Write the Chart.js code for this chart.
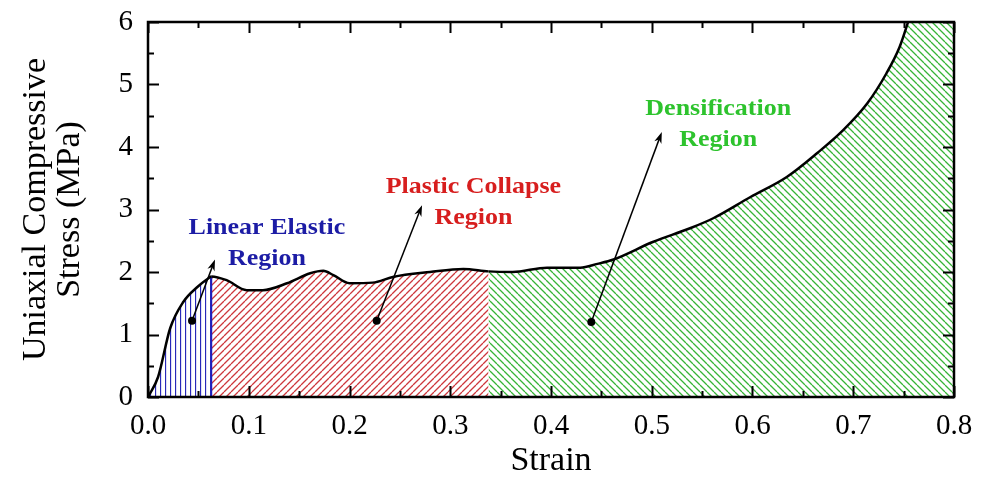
<!DOCTYPE html>
<html><head><meta charset="utf-8">
<script src="https://cdn.jsdelivr.net/npm/chart.js@4.4.0/dist/chart.umd.min.js"></script>
<style>html,body{margin:0;padding:0;background:#fff}</style>
</head><body>
<canvas id="c" width="988" height="478"></canvas>
<script>
// ---- data ----
const strain = [0, 0.01, 0.022, 0.035, 0.049, 0.06, 0.063, 0.078, 0.098, 0.114, 0.138, 0.161, 0.174, 0.184, 0.2, 0.223, 0.243, 0.28, 0.313, 0.338, 0.362, 0.396, 0.429, 0.446, 0.462, 0.501, 0.538, 0.561, 0.598, 0.634, 0.664, 0.69, 0.714, 0.733, 0.746, 0.754, 0.8];
const stress = [0, 0.32, 1.1, 1.52, 1.76, 1.9, 1.93, 1.87, 1.71, 1.71, 1.82, 1.98, 2.02, 1.95, 1.82, 1.83, 1.92, 2.0, 2.05, 2.01, 2.0, 2.07, 2.07, 2.13, 2.2, 2.48, 2.7, 2.86, 3.2, 3.52, 3.9, 4.27, 4.7, 5.18, 5.6, 5.98, 8.5];
const regionEnds = [0.063, 0.338];          // linear elastic | plastic collapse | densification
const elasticPeak = 1.93;
const xTickLabels = ['0.0','0.1','0.2','0.3','0.4','0.5','0.6','0.7','0.8'];
const yTickLabels = ['0','1','2','3','4','5','6'];
const regionNames = [['Linear Elastic','Region'], ['Plastic Collapse','Region'], ['Densification','Region']];
const labelAnchors = [[0.118, 2.71], [0.323, 3.36], [0.566, 4.6]];   // text centre (strain, stress)
const arrowFrom = [[0.0437, 1.22], [0.227, 1.22], [0.44, 1.2]];
const arrowTo = [[0.0665, 2.2], [0.272, 3.07], [0.51, 4.24]];

const COL_BLUE = 'rgb(28,28,165)', COL_RED = 'rgb(215,30,30)', COL_GREEN = 'rgb(45,195,45)';

function hatch(kind, color, s) {
  const c = document.createElement('canvas');
  c.width = s; c.height = s;
  const g = c.getContext('2d');
  g.strokeStyle = color; g.lineWidth = 1.3;
  g.beginPath();
  if (kind === 'v') { g.moveTo(0.5, 0); g.lineTo(0.5, s); }
  else {
    for (let k = -1; k <= 1; k++) {
      if (kind === '/') { g.moveTo(k * s, s); g.lineTo(k * s + s, 0); }
      else { g.moveTo(k * s, 0); g.lineTo(k * s + s, s); }
    }
  }
  g.stroke();
  return g.createPattern(c, 'repeat');
}
const patBlue = hatch('v', 'rgb(40,40,185)', 5);
const patRed = hatch('/', 'rgb(205,55,60)', 7);
const patGreen = hatch('\\', 'rgb(55,180,55)', 7);

const points = strain.map((x, i) => ({x, y: stress[i]}));
const serif = "'Liberation Serif','Times New Roman',serif";

const framePlugin = {
  id: 'frame',
  afterDatasetsDraw(chart) {
    const {ctx, chartArea: a, scales: {x, y}} = chart;
    ctx.save();
    ctx.strokeStyle = '#000';
    ctx.lineWidth = 2;
    ctx.beginPath();
    for (let v = 0; v <= 0.8001; v += 0.05) {
      const px = Math.round(x.getPixelForValue(v)) + 0.5;
      const major = Math.abs(v * 10 - Math.round(v * 10)) < 1e-6;
      const L = major ? 11 : 6;
      ctx.moveTo(px, a.bottom); ctx.lineTo(px, a.bottom - L);
      ctx.moveTo(px, a.top); ctx.lineTo(px, a.top + L);
    }
    for (let v = 0; v <= 6.001; v += 0.5) {
      const py = Math.round(y.getPixelForValue(v)) + 0.5;
      const major = Math.abs(v - Math.round(v)) < 1e-6;
      const L = major ? 11 : 6;
      ctx.moveTo(a.left, py); ctx.lineTo(a.left + L, py);
      ctx.moveTo(a.right, py); ctx.lineTo(a.right - L, py);
    }
    ctx.stroke();
    ctx.lineWidth = 2.5;
    ctx.strokeRect(a.left, a.top, a.right - a.left, a.bottom - a.top);

    // annotations
    const cols = [COL_BLUE, COL_RED, COL_GREEN];
    for (let i = 0; i < 3; i++) {
      const fx = x.getPixelForValue(arrowFrom[i][0]), fy = y.getPixelForValue(arrowFrom[i][1]);
      const tx = x.getPixelForValue(arrowTo[i][0]), ty = y.getPixelForValue(arrowTo[i][1]);
      ctx.strokeStyle = '#000'; ctx.fillStyle = '#000'; ctx.lineWidth = 1.5;
      const ang = Math.atan2(ty - fy, tx - fx);
      ctx.beginPath(); ctx.moveTo(fx, fy);
      ctx.lineTo(tx - 6 * Math.cos(ang), ty - 6 * Math.sin(ang)); ctx.stroke();
      ctx.beginPath();
      ctx.moveTo(tx, ty);
      ctx.lineTo(tx - 12 * Math.cos(ang - 0.32), ty - 12 * Math.sin(ang - 0.32));
      ctx.lineTo(tx - 8 * Math.cos(ang), ty - 8 * Math.sin(ang));
      ctx.lineTo(tx - 12 * Math.cos(ang + 0.32), ty - 12 * Math.sin(ang + 0.32));
      ctx.closePath(); ctx.fill();
      ctx.beginPath(); ctx.arc(fx, fy, 4, 0, Math.PI * 2); ctx.fill();

      const cx = x.getPixelForValue(labelAnchors[i][0]), cy = y.getPixelForValue(labelAnchors[i][1]);
      ctx.fillStyle = cols[i];
      ctx.font = 'bold 23px ' + serif;
      ctx.textAlign = 'center'; ctx.textBaseline = 'middle';
      regionNames[i].forEach((t, k) => {
        ctx.save();
        ctx.translate(cx, cy + k * 31);
        ctx.scale(1.13, 1);
        ctx.fillText(t, 0, 0);
        ctx.restore();
      });
    }
    ctx.restore();
  }
};

new Chart(document.getElementById('c'), {
  type: 'line',
  data: {
    datasets: [
      {
        label: 'Stress-strain',
        data: points,
        borderColor: '#000',
        borderWidth: 2.5,
        pointRadius: 0,
        cubicInterpolationMode: 'monotone',
        fill: 'origin',
        backgroundColor: patGreen,
        segment: {
          backgroundColor: c => {
            const xv = c.p0.parsed.x;
            return xv < regionEnds[0] - 1e-9 ? patBlue : (xv < regionEnds[1] - 1e-9 ? patRed : patGreen);
          }
        }
      },
      {
        label: 'edge',
        data: [{x: regionEnds[0], y: 0}, {x: regionEnds[0], y: elasticPeak}],
        borderColor: 'rgb(30,30,190)',
        borderWidth: 1.5,
        pointRadius: 0,
        fill: false
      }
    ]
  },
  options: {
    responsive: false,
    animation: false,
    events: [],
    layout: {padding: {top: 22, right: 34, left: 0, bottom: 0}},
    plugins: {legend: {display: false}, tooltip: {enabled: false}, filler: {drawTime: 'beforeDatasetsDraw'}},
    scales: {
      x: {
        type: 'linear', min: 0, max: 0.8,
        afterFit: s => { s.height = 81; s.paddingLeft = 0; s.paddingRight = 0; },
        afterBuildTicks: s => { s.ticks = xTickLabels.map(t => ({value: parseFloat(t)})); },
        grid: {display: false, drawTicks: false},
        border: {display: false},
        ticks: {callback: (v, i) => xTickLabels[i], color: '#000', padding: 12, font: {family: serif, size: 29}, maxRotation: 0},
        title: {display: true, text: 'Strain', color: '#000', font: {family: serif, size: 34, lineHeight: 1}, padding: {bottom: 0, top: 0}}
      },
      y: {
        type: 'linear', min: 0, max: 6,
        afterFit: s => { s.width = 148; s.paddingTop = 0; s.paddingBottom = 0; },
        afterBuildTicks: s => { s.ticks = yTickLabels.map(t => ({value: parseFloat(t)})); },
        grid: {display: false, drawTicks: false},
        border: {display: false},
        ticks: {callback: (v, i) => yTickLabels[i], color: '#000', padding: 15, font: {family: serif, size: 29}},
        title: {display: true, text: ['Uniaxial Compressive', 'Stress (MPa)'], color: '#000', font: {family: serif, size: 34, lineHeight: 1}, padding: {top: 19, bottom: 0}}
      }
    }
  },
  plugins: [framePlugin]
});
</script>
</body></html>
